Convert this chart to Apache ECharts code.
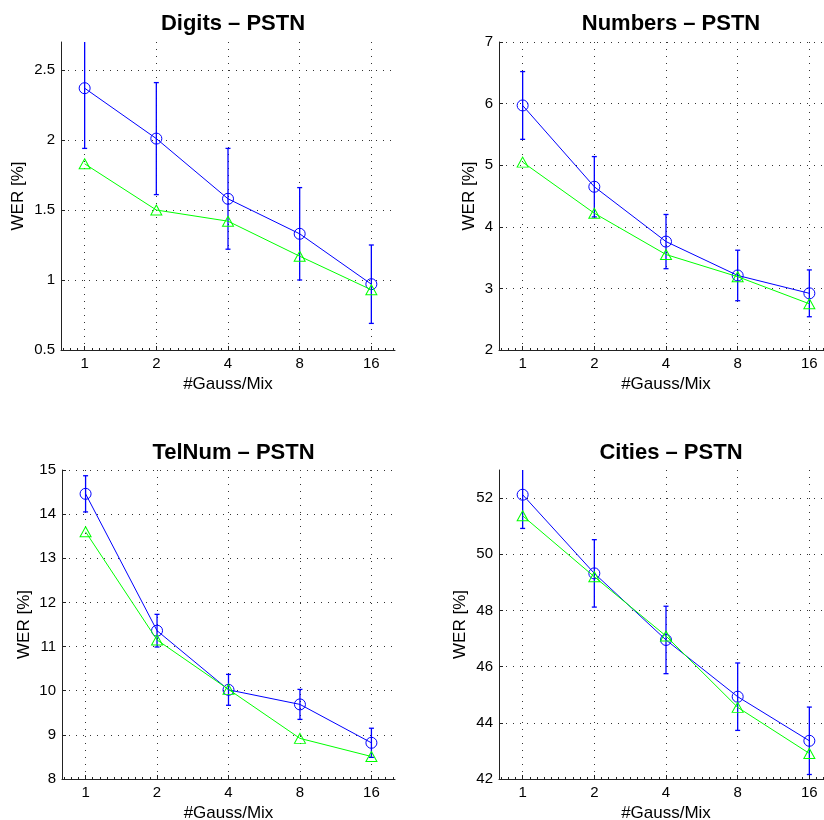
<!DOCTYPE html>
<html><head><meta charset="utf-8">
<script src="https://cdn.jsdelivr.net/npm/echarts@6/dist/echarts.min.js"></script>
<style>html,body{margin:0;padding:0;background:#fff}#c{width:824px;height:820px}</style>
</head><body><div id="c"></div>
<script>
// ---- data ----
const xTickLabels = ['1', '2', '4', '8', '16'];
const titles = ['Digits – PSTN', 'Numbers – PSTN', 'TelNum – PSTN', 'Cities – PSTN'];

const digitsBlue = [2.37, 2.01, 1.58, 1.33, 0.97];
const digitsBlueErr = [0.43, 0.40, 0.36, 0.33, 0.28];
const digitsGreen = [1.83, 1.50, 1.42, 1.17, 0.93];

const numbersBlue = [5.97, 4.65, 3.76, 3.21, 2.92];
const numbersBlueErr = [0.55, 0.49, 0.44, 0.41, 0.38];
const numbersGreen = [5.05, 4.22, 3.55, 3.19, 2.75];

const telnumBlue = [14.46, 11.36, 10.02, 9.69, 8.82];
const telnumBlueErr = [0.41, 0.37, 0.35, 0.34, 0.33];
const telnumGreen = [13.60, 11.15, 10.03, 8.92, 8.51];

const citiesBlue = [52.12, 49.32, 46.95, 44.93, 43.36];
const citiesBlueErr = [1.2, 1.2, 1.2, 1.2, 1.2];
const citiesGreen = [51.37, 49.20, 47.09, 44.55, 42.91];

const digitsYTicks = [0.5, 1, 1.5, 2, 2.5];
const numbersYTicks = [2, 3, 4, 5, 6, 7];
const telnumYTicks = [8, 9, 10, 11, 12, 13, 14, 15];
const citiesYTicks = [42, 44, 46, 48, 50, 52];

const yRanges = [[0.5, 2.7], [2, 7], [8, 15], [42, 53]];

// ---- build ----
const panels = [
  { blue: digitsBlue, err: digitsBlueErr, green: digitsGreen, yTicks: digitsYTicks },
  { blue: numbersBlue, err: numbersBlueErr, green: numbersGreen, yTicks: numbersYTicks },
  { blue: telnumBlue, err: telnumBlueErr, green: telnumGreen, yTicks: telnumYTicks },
  { blue: citiesBlue, err: citiesBlueErr, green: citiesGreen, yTicks: citiesYTicks }
];
const gridPos = [
  { left: 61, top: 42, width: 334, height: 308 },
  { left: 499, top: 42, width: 334, height: 308 },
  { left: 62, top: 470, width: 333, height: 309 },
  { left: 499, top: 470, width: 334, height: 309 }
];
const yNameGaps = [34, 21, 29, 30];
const titleTops = [8, 8, 437, 437];

const FONT = 'Liberation Sans, Arial, Helvetica, sans-serif';
const BLUE = '#0000ff', GREEN = '#00ff00';
const X_MIN = 0.67, X_MAX = 5.33;
const xPos = xTickLabels.map((_, i) => i + 1);
const minorTicks = [];
for (let k = 7; k <= 53; k++) minorTicks.push(k / 10);

const gridLine = { show: true, lineStyle: { color: '#333', type: [1, 6], width: 1 } };

const option = {
  animation: false,
  backgroundColor: '#fff',
  title: [], grid: [], xAxis: [], yAxis: [], series: []
};

function renderErr(params, api) {
  const x = api.value(0), lo = api.value(1), hi = api.value(2);
  const pLo = api.coord([x, lo]), pHi = api.coord([x, hi]);
  const cs = params.coordSys;
  const top = cs.y, bot = cs.y + cs.height;
  const y1 = Math.max(pHi[1], top), y2 = Math.min(pLo[1], bot);
  const st = { stroke: BLUE, lineWidth: 1.3 };
  const hw = 2.5;
  const children = [{ type: 'line', shape: { x1: pLo[0], y1: y1, x2: pLo[0], y2: y2 }, style: st }];
  if (pHi[1] >= top) children.push({ type: 'line', shape: { x1: pHi[0] - hw, y1: pHi[1], x2: pHi[0] + hw, y2: pHi[1] }, style: st });
  if (pLo[1] <= bot) children.push({ type: 'line', shape: { x1: pLo[0] - hw, y1: pLo[1], x2: pLo[0] + hw, y2: pLo[1] }, style: st });
  return { type: 'group', children: children };
}

panels.forEach((p, g) => {
  const gp = gridPos[g];
  option.grid.push(Object.assign({ outerBoundsMode: 'none', containLabel: false }, gp));
  option.title.push({
    text: titles[g], left: gp.left + gp.width / 2, top: titleTops[g], textAlign: 'center',
    textStyle: { fontFamily: FONT, fontWeight: 'bold', fontSize: 22, color: '#000' }
  });
  // main x axis
  option.xAxis.push({
    type: 'value', gridIndex: g, min: X_MIN, max: X_MAX, position: 'bottom',
    name: '#Gauss/Mix', nameLocation: 'middle', nameGap: 26,
    nameTextStyle: { fontFamily: FONT, fontSize: 17, color: '#000' },
    axisLine: { show: true, onZero: false, lineStyle: { color: '#222', width: 1 } },
    axisTick: { show: true, inside: true, length: 4, customValues: xPos, lineStyle: { color: '#222' } },
    axisLabel: {
      customValues: xPos, margin: 6,
      formatter: v => xTickLabels[Math.round(v) - 1],
      fontFamily: FONT, fontSize: 15, color: '#000'
    },
    splitLine: gridLine
  });
  // minor tick overlay
  option.xAxis.push({
    type: 'value', gridIndex: g, min: X_MIN, max: X_MAX, position: 'bottom',
    axisLine: { show: false },
    axisTick: { show: true, inside: true, length: 2, customValues: minorTicks, lineStyle: { color: '#222' } },
    axisLabel: { show: false },
    splitLine: { show: false }
  });
  option.yAxis.push({
    type: 'value', gridIndex: g, min: yRanges[g][0], max: yRanges[g][1],
    name: 'WER [%]', nameLocation: 'middle', nameGap: yNameGaps[g], nameRotate: 90,
    nameTextStyle: { fontFamily: FONT, fontSize: 17, color: '#000' },
    axisLine: { show: true, onZero: false, lineStyle: { color: '#222', width: 1 } },
    axisTick: { show: true, inside: true, length: 4, customValues: p.yTicks, lineStyle: { color: '#222' } },
    axisLabel: { customValues: p.yTicks, margin: 6, fontFamily: FONT, fontSize: 15, color: '#000' },
    splitLine: gridLine
  });
  const xi = g * 2;
  option.series.push({
    type: 'custom', xAxisIndex: xi, yAxisIndex: g,
    renderItem: renderErr, encode: { x: 0, y: [1, 2] },
    data: p.blue.map((v, i) => [xPos[i], v - p.err[i], v + p.err[i]]),
    z: 2, silent: true
  });
  option.series.push({
    type: 'line', xAxisIndex: xi, yAxisIndex: g,
    data: p.blue.map((v, i) => [xPos[i], v]),
    symbol: 'circle', symbolSize: 11, showSymbol: true,
    lineStyle: { color: BLUE, width: 1 },
    itemStyle: { color: 'rgba(0,0,0,0)', borderColor: BLUE, borderWidth: 1 },
    emphasis: { disabled: true }, z: 3, silent: true
  });
  option.series.push({
    type: 'line', xAxisIndex: xi, yAxisIndex: g,
    data: p.green.map((v, i) => [xPos[i], v]),
    symbol: 'triangle', symbolSize: [11, 10], showSymbol: true,
    lineStyle: { color: GREEN, width: 1 },
    itemStyle: { color: 'rgba(0,0,0,0)', borderColor: GREEN, borderWidth: 1 },
    emphasis: { disabled: true }, z: 4, silent: true
  });
});

const chart = echarts.init(document.getElementById('c'), null, { renderer: 'canvas' });
chart.setOption(option);
</script>
</body></html>
